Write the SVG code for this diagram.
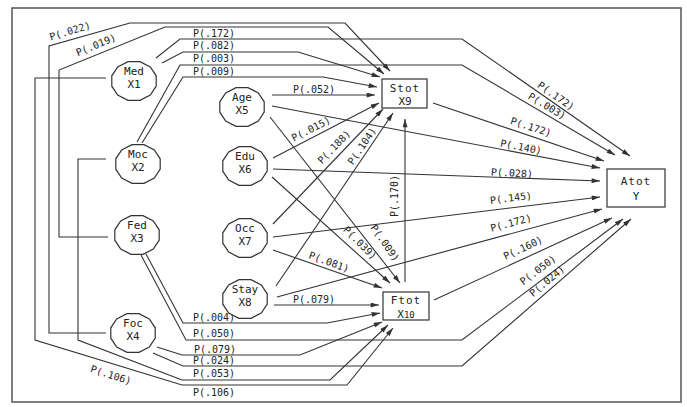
<svg xmlns="http://www.w3.org/2000/svg" width="687" height="407" viewBox="0 0 687 407">
<defs>
<style>
.frame{fill:none;stroke:#555;stroke-width:1.5}
.c{fill:none;stroke:#333;stroke-width:1.1}
.a{marker-end:url(#ah)}
.n{fill:#fff;stroke:#333;stroke-width:1.2}
.nt{font-family:"DejaVu Sans Mono",monospace;font-size:11px;fill:#222;text-anchor:middle}
.lb{font-family:"DejaVu Sans Mono",monospace;font-size:10px;fill:#222}
.lc{font-family:"DejaVu Sans Mono",monospace;font-size:10px;fill:#222;text-anchor:middle}
</style>
<marker id="ah" markerUnits="userSpaceOnUse" viewBox="0 0 10 6" refX="10" refY="3" markerWidth="9" markerHeight="5" orient="auto">
<path d="M0,0 L10,3 L0,6 z" fill="#333"/>
</marker>
<polygon id="oct" points="22.2,5.2 16.3,14.1 6,19.3 -6,19.3 -16.3,14.1 -22.2,5.2 -22.2,-5.2 -16.3,-14.1 -6,-19.3 6,-19.3 16.3,-14.1 22.2,-5.2"/>
</defs>
<rect x="0" y="0" width="687" height="407" fill="#fff"/>
<rect class="frame" x="12" y="8" width="669" height="394"/>

<g id="connectors">
<path class="c a" d="M106,333 H49 V46 L130,23 H345 L390,71"/>
<path class="c a" d="M108,237 H59 V70 L165,27 H328 L384,74"/>
<path class="c a" d="M156,58 L180,39 H462 L630,156"/>
<path class="c a" d="M162,63 L183,52 H298 L380,77"/>
<path class="c a" d="M137,142 L180,65 H462 L615,155"/>
<path class="c a" d="M142,143 L183,77 H323 L377,87"/>
<path class="c a" d="M106,78 H35 V340 L182,385 H347 L393,328"/>
<path class="c a" d="M106,159 H78 V340 L182,380 H330 L388,325"/>
<path class="c a" d="M146,254 L183,323 H327 L380,313"/>
<path class="c a" d="M141,255 L186,340 H462 L623,219"/>
<path class="c a" d="M157,347 L182,355 H300 L382,322"/>
<path class="c a" d="M153,353 L183,366 H462 L631,219"/>
<path class="c a" d="M272,95 H375"/>
<path class="c a" d="M272,106 L600,168"/>
<path class="c a" d="M270,117 L400,283"/>
<path class="c a" d="M273,158 L379,103"/>
<path class="c a" d="M273,169 L600,181"/>
<path class="c a" d="M272,177 L390,283"/>
<path class="c a" d="M273,224 L383,109"/>
<path class="c a" d="M273,237 L600,197"/>
<path class="c a" d="M273,250 L382,288"/>
<path class="c a" d="M276,286 L393,113"/>
<path class="c a" d="M277,297 L602,209"/>
<path class="c a" d="M274,305 H379"/>
<path class="c a" d="M433,103 L604,161"/>
<path class="c a" d="M405,282 V119"/>
<path class="c a" d="M434,300 L612,218"/>

<text class="lb" x="193" y="37">P(.172)</text>
<text class="lb" x="193" y="49">P(.082)</text>
<text class="lb" x="193" y="62">P(.003)</text>
<text class="lb" x="193" y="75">P(.009)</text>
<text class="lb" x="193" y="321">P(.004)</text>
<text class="lb" x="193" y="337">P(.050)</text>
<text class="lb" x="194" y="353">P(.079)</text>
<text class="lb" x="193" y="364">P(.024)</text>
<text class="lb" x="193" y="377">P(.053)</text>
<text class="lb" x="193" y="396">P(.106)</text>
<text class="lb" x="293" y="93">P(.052)</text>
<text class="lb" x="293" y="303">P(.079)</text>
<text class="lc" transform="translate(70,31) rotate(-17)" y="3.5">P(.022)</text>
<text class="lc" transform="translate(96,45) rotate(-22)" y="3.5">P(.019)</text>
<text class="lc" transform="translate(111,375) rotate(18)" y="3.5">P(.106)</text>
<text class="lc" transform="translate(556,96) rotate(35)" y="3.5">P(.172)</text>
<text class="lc" transform="translate(547,106) rotate(31)" y="3.5">P(.003)</text>
<text class="lc" transform="translate(531,127) rotate(18)" y="3.5">P(.172)</text>
<text class="lc" transform="translate(521,147) rotate(11)" y="3.5">P(.140)</text>
<text class="lc" transform="translate(512,173) rotate(3)" y="3.5">P(.028)</text>
<text class="lc" transform="translate(511,198) rotate(-7)" y="3.5">P(.145)</text>
<text class="lc" transform="translate(511,223) rotate(-15)" y="3.5">P(.172)</text>
<text class="lc" transform="translate(523,248) rotate(-25)" y="3.5">P(.160)</text>
<text class="lc" transform="translate(538,270) rotate(-37)" y="3.5">P(.050)</text>
<text class="lc" transform="translate(547,281) rotate(-40)" y="3.5">P(.024)</text>
<text class="lc" transform="translate(311,129) rotate(-27)" y="3.5">P(.015)</text>
<text class="lc" transform="translate(334,147) rotate(-46)" y="3.5">P(.188)</text>
<text class="lc" transform="translate(362,146) rotate(-56)" y="3.5">P(.104)</text>
<text class="lc" transform="translate(394,196) rotate(-90)" y="3.5">P(.170)</text>
<text class="lc" transform="translate(360,243) rotate(45)" y="3.5">P(.039)</text>
<text class="lc" transform="translate(385,243) rotate(55)" y="3.5">P(.009)</text>
<text class="lc" transform="translate(329,262) rotate(20)" y="3.5">P(.081)</text>
</g>

<g id="med"><use href="#oct" class="n" x="134" y="81"/><text class="nt" x="134" y="74.5">Med</text><text class="nt" x="134" y="88">X1</text></g>
<g id="moc"><use href="#oct" class="n" x="138" y="164"/><text class="nt" x="138" y="157.5">Moc</text><text class="nt" x="138" y="171">X2</text></g>
<g id="fed"><use href="#oct" class="n" x="137" y="235"/><text class="nt" x="137" y="228.5">Fed</text><text class="nt" x="137" y="242">X3</text></g>
<g id="foc"><use href="#oct" class="n" x="133" y="333"/><text class="nt" x="133" y="326.5">Foc</text><text class="nt" x="133" y="340">X4</text></g>
<g id="age"><use href="#oct" class="n" x="242" y="107"/><text class="nt" x="242" y="100.5">Age</text><text class="nt" x="242" y="114">X5</text></g>
<g id="edu"><use href="#oct" class="n" x="245" y="166"/><text class="nt" x="245" y="159.5">Edu</text><text class="nt" x="245" y="173">X6</text></g>
<g id="occ"><use href="#oct" class="n" x="245" y="238"/><text class="nt" x="245" y="231.5">Occ</text><text class="nt" x="245" y="245">X7</text></g>
<g id="stay"><use href="#oct" class="n" x="245" y="299"/><text class="nt" x="245" y="292.5">Stay</text><text class="nt" x="245" y="306">X8</text></g>
<g id="stot"><rect class="n" x="382" y="79" width="45" height="29"/><text class="nt" x="405" y="91.5" letter-spacing="1">Stot</text><text class="nt" x="405" y="105">X9</text></g>
<g id="ftot"><rect class="n" x="383" y="292" width="46" height="28"/><text class="nt" x="406" y="304" letter-spacing="1">Ftot</text><text class="nt" x="406" y="317.5">X<tspan font-size="9">10</tspan></text></g>
<g id="atot"><rect class="n" x="607" y="169" width="58" height="38"/><text class="nt" x="636" y="185" letter-spacing="1">Atot</text><text class="nt" x="636" y="200">Y</text></g>
</svg>
